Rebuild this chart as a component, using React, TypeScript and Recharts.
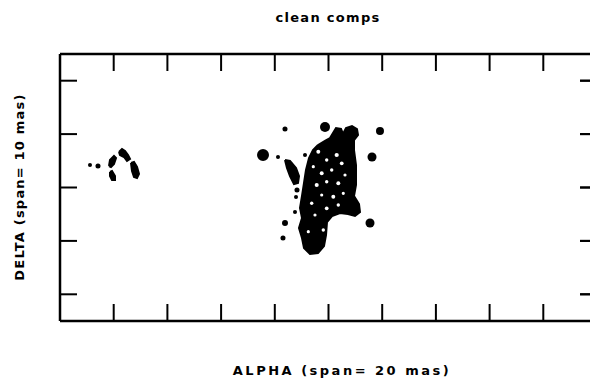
import React from 'react';
import { ScatterChart, Scatter, XAxis, YAxis, ZAxis, ReferenceLine } from 'recharts';

// Axis ticks (mas offsets)
const xTicks = [-8, -6, -4, -2, 0, 2, 4, 6, 8];
const yTicks = [-4, -2, 0, 2, 4];
const xDomain: [number, number] = [-10, 10];
const yDomain: [number, number] = [-5, 5];
const rightTickLen = 0.63; // mas, same length as other inward ticks

type P = { x: number; y: number };
type C = { x: number; y: number; z: number };

// Outer contour of the main jet emission (mas)
const mainBody: P[] = [
  { x: -0.391, y: 1.592 }, { x: -0.13, y: 1.742 }, { x: 0.056, y: 1.854 }, { x: 0.168, y: 2.041 },
  { x: 0.279, y: 2.228 }, { x: 0.466, y: 2.191 }, { x: 0.54, y: 2.004 }, { x: 0.652, y: 2.228 },
  { x: 0.875, y: 2.303 }, { x: 1.061, y: 2.191 }, { x: 1.099, y: 1.966 }, { x: 0.95, y: 1.779 },
  { x: 0.95, y: 1.404 }, { x: 1.024, y: 0.843 }, { x: 1.024, y: 0.094 }, { x: 0.95, y: -0.318 },
  { x: 1.136, y: -0.618 }, { x: 1.173, y: -0.918 }, { x: 0.987, y: -1.067 }, { x: 0.726, y: -0.993 },
  { x: 0.428, y: -0.955 }, { x: 0.13, y: -1.067 }, { x: -0.056, y: -1.292 }, { x: -0.093, y: -1.779 },
  { x: -0.168, y: -2.191 }, { x: -0.391, y: -2.453 }, { x: -0.689, y: -2.491 }, { x: -0.912, y: -2.266 },
  { x: -0.987, y: -1.891 }, { x: -1.099, y: -1.517 }, { x: -0.987, y: -1.142 }, { x: -1.061, y: -0.768 },
  { x: -0.987, y: -0.318 }, { x: -0.912, y: 0.169 }, { x: -0.838, y: 0.655 }, { x: -0.726, y: 1.105 },
  { x: -0.577, y: 1.404 },
];

// Elongated component west of the core
const leaf: P[] = [
  { x: -1.62, y: 1.03 }, { x: -1.434, y: 0.993 }, { x: -1.21, y: 0.73 }, { x: -1.099, y: 0.431 },
  { x: -1.136, y: 0.169 }, { x: -1.285, y: 0.131 }, { x: -1.434, y: 0.431 }, { x: -1.546, y: 0.73 },
];

// Far western group
const farA: P[] = [
  { x: -8.175, y: 0.805 }, { x: -8.138, y: 1.03 }, { x: -7.989, y: 1.18 }, { x: -7.914, y: 1.105 },
  { x: -7.989, y: 0.88 }, { x: -8.101, y: 0.768 },
];
const farB: P[] = [
  { x: -7.803, y: 1.33 }, { x: -7.691, y: 1.442 }, { x: -7.579, y: 1.367 }, { x: -7.467, y: 1.217 },
  { x: -7.393, y: 1.067 }, { x: -7.505, y: 0.993 }, { x: -7.616, y: 1.142 }, { x: -7.765, y: 1.217 },
];
const farC: P[] = [
  { x: -8.138, y: 0.581 }, { x: -8.063, y: 0.618 }, { x: -7.952, y: 0.431 }, { x: -7.952, y: 0.281 },
  { x: -8.063, y: 0.281 }, { x: -8.138, y: 0.431 },
];
const farD: P[] = [
  { x: -7.356, y: 0.918 }, { x: -7.244, y: 0.955 }, { x: -7.132, y: 0.768 }, { x: -7.058, y: 0.506 },
  { x: -7.132, y: 0.356 }, { x: -7.244, y: 0.393 }, { x: -7.318, y: 0.618 },
];

// Compact clean components (z = relative strength)
const compact: C[] = [
  { x: -0.13, y: 2.266, z: 79 }, { x: -1.62, y: 2.191, z: 20 }, { x: 1.918, y: 2.116, z: 50 },
  { x: -2.439, y: 1.217, z: 113 }, { x: -1.881, y: 1.142, z: 13 }, { x: -0.875, y: 1.217, z: 13 },
  { x: 1.62, y: 1.142, z: 64 }, { x: 1.546, y: -1.33, z: 64 }, { x: -1.62, y: -1.33, z: 28 },
  { x: -1.695, y: -1.891, z: 20 }, { x: -1.173, y: -0.094, z: 20 }, { x: -1.21, y: -0.356, z: 13 },
  { x: -0.764, y: 0.206, z: 13 }, { x: -1.248, y: -0.918, z: 13 }, { x: 0.875, y: -0.468, z: 20 },
  { x: -8.883, y: 0.843, z: 13 }, { x: -8.585, y: 0.805, z: 20 },
];

// Gaps between contour levels inside the core
const gaps: C[] = [
  { x: -0.38, y: 1.341, z: 12 }, { x: -0.067, y: 1.03, z: 9 }, { x: 0.305, y: 1.217, z: 14 },
  { x: -0.566, y: 0.779, z: 8 }, { x: -0.253, y: 0.532, z: 12 }, { x: 0.119, y: 0.655, z: 9 },
  { x: 0.492, y: 0.906, z: 11 }, { x: 0.615, y: 0.468, z: 8 }, { x: -0.439, y: 0.094, z: 13 },
  { x: -0.067, y: 0.217, z: 9 }, { x: 0.365, y: 0.157, z: 12 }, { x: -0.253, y: -0.281, z: 8 },
  { x: 0.179, y: -0.345, z: 12 }, { x: -0.626, y: -0.592, z: 9 }, { x: 0.551, y: -0.217, z: 8 },
  { x: -0.067, y: -0.779, z: 11 }, { x: -0.503, y: -1.03, z: 8 }, { x: 0.365, y: -0.655, z: 9 },
  { x: -0.194, y: -1.592, z: 9 }, { x: -0.752, y: -1.655, z: 8 },
];

const close = (pts: P[]) => [...pts, pts[0]];
const NoDot = () => <g />;
const blank = () => '';

const polygons: P[][] = [leaf, farA, farB, farC, farD];

const labelFont: React.CSSProperties = {
  position: 'absolute',
  fontFamily: '"DejaVu Sans", sans-serif',
  fontWeight: 'bold',
  fontSize: 13,
  letterSpacing: '1.3px',
  lineHeight: '14px',
  height: 14,
  textAlign: 'center',
  whiteSpace: 'nowrap',
  color: '#000',
};

export default function App() {
  const axisLine = { stroke: '#000', strokeWidth: 2.5 };
  const tickLine = { stroke: '#000', strokeWidth: 2 };
  const common = {
    type: 'number' as const,
    tickFormatter: blank,
    axisLine,
    tickLine,
    allowDataOverflow: true,
    interval: 0 as const,
    mirror: true,
    tickSize: 17,
  };
  return (
    <div style={{ position: 'absolute', left: 0, top: 0, width: 590, height: 380, overflow: 'hidden', background: '#fff' }}>
      <ScatterChart width={600} height={380} margin={{ top: 54, right: 3, bottom: 59, left: 60 }}>
        <XAxis xAxisId="b" dataKey="x" domain={xDomain} ticks={xTicks} orientation="bottom" {...common} />
        <XAxis xAxisId="t" dataKey="x" domain={xDomain} ticks={xTicks} orientation="top" {...common} />
        <YAxis yAxisId="l" dataKey="y" domain={yDomain} ticks={yTicks} orientation="left" {...common} />
        <ZAxis dataKey="z" type="number" domain={[0, 120]} range={[0, 120]} />
        <Scatter xAxisId="b" yAxisId="l" data={close(mainBody)} shape={NoDot} isAnimationActive={false}
          line={{ fill: '#000', stroke: '#000', strokeWidth: 2 }} lineType="joint" />
        <Scatter xAxisId="b" yAxisId="l" data={gaps} fill="#fff" isAnimationActive={false} />
        {polygons.map((p, i) => (
          <Scatter key={i} xAxisId="b" yAxisId="l" data={close(p)} shape={NoDot} isAnimationActive={false}
            line={{ fill: '#000', stroke: '#000', strokeWidth: 2 }} lineType="joint" />
        ))}
        <Scatter xAxisId="b" yAxisId="l" data={compact} fill="#000" isAnimationActive={false} />
        {yTicks.map((t) => (
          <ReferenceLine key={`rt${t}`} xAxisId="b" yAxisId="l" ifOverflow="visible"
            segment={[{ x: xDomain[1] - rightTickLen, y: t }, { x: xDomain[1], y: t }]}
            stroke="#000" strokeWidth={2} />
        ))}
      </ScatterChart>
      <div style={{ position: 'absolute', left: 0, top: 0, width: 590, height: 380, overflow: 'hidden', pointerEvents: 'none' }}>
        <ScatterChart width={700} height={380} margin={{ top: 54, right: 3, bottom: 59, left: 580 }}>
          <XAxis xAxisId="h" dataKey="x" type="number" domain={xDomain} hide />
          <YAxis yAxisId="e" dataKey="y" domain={yDomain} ticks={yTicks} orientation="left" {...common} axisLine={false} />
          <Scatter xAxisId="h" yAxisId="e" data={compact} shape={NoDot} isAnimationActive={false} />
        </ScatterChart>
      </div>
      <div style={{ ...labelFont, left: 128, width: 400, top: 11 }}>clean comps</div>
      <div style={{ ...labelFont, left: 142, width: 400, top: 364, letterSpacing: '2.5px' }}>ALPHA (span= 20 mas)</div>
      <div style={{ ...labelFont, left: -130, width: 300, top: 180, transform: 'rotate(-90deg)', letterSpacing: '1.2px' }}>DELTA (span= 10 mas)</div>
    </div>
  );
}
